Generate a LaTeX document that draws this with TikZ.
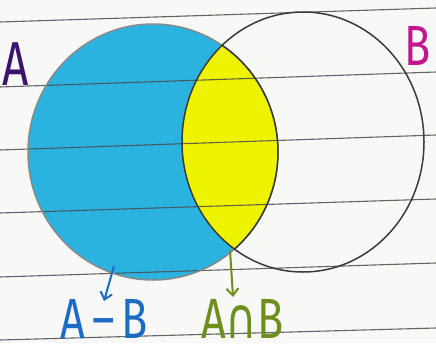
\documentclass[tikz,border=0pt]{standalone}
\usepackage{fontspec}
\setmainfont{Fira Sans}
\newfontfamily\symfont{DejaVu Sans}
\usetikzlibrary{arrows.meta}
\definecolor{paper}{HTML}{F8F8F6}
\definecolor{fillA}{HTML}{2BB3DF}
\definecolor{fillI}{HTML}{EEF400}
\definecolor{ruleline}{HTML}{4A4A52}
\definecolor{labA}{HTML}{3B1470}
\definecolor{labB}{HTML}{C2178E}
\definecolor{labDiff}{HTML}{1C6CC4}
\definecolor{labInt}{HTML}{6E8F1E}
\definecolor{outline}{HTML}{3A3A3A}
\tikzset{
  paperline/.style={ruleline, line width=1.1pt, opacity=0.85},
  setedge/.style={outline, line width=1.5pt},
  hand/.style={inner sep=0pt, text depth=0pt, font=\fontsize{54}{54}\selectfont\mdseries},
  pointer/.style={line width=2pt, -{Straight Barb[length=7pt,width=12pt,line width=2pt]}}
}
\begin{document}
\begin{tikzpicture}[x=1pt,y=-1pt]
\useasboundingbox (0,0) rectangle (436,343);
\fill[paper] (0,0) rectangle (436,343);
% circle A fill
\fill[fillA] (153,152) ellipse [x radius=125, y radius=128];
% intersection
\begin{scope}
  \clip (303,142) ellipse [x radius=121, y radius=130];
  \fill[fillI] (153,152) ellipse [x radius=125, y radius=128];
\end{scope}
% ruled lines
\draw[paperline] (0,22) -- (436,8);
\draw[paperline] (0,87) -- (436,72);
\draw[paperline] (0,150) -- (436,135);
\draw[paperline] (0,213) -- (436,199);
\draw[paperline] (0,277) -- (436,263);
\draw[paperline] (0,340) -- (436,328);
% outlines
\draw[setedge, outline!60] (153,152) ellipse [x radius=125, y radius=128];
\begin{scope}
  \clip (303,142) ellipse [x radius=121, y radius=130];
  \draw[setedge] (153,152) ellipse [x radius=125, y radius=128];
\end{scope}
\draw[setedge] (303,142) ellipse [x radius=121, y radius=130];
% labels
\node[hand, anchor=north west, labA, xscale=0.85, yscale=1.15] (lA) at (2,42) {A};
\node[hand, anchor=north west, labB, xscale=0.8, yscale=1.05] (lB) at (404,26) {B};
\node[hand, anchor=base west, labDiff, xscale=0.8, yscale=1.05] (lD) at (60,338) {A\,–\,B};
\node[hand, anchor=base west, labInt, xscale=0.8, yscale=1.05] (lI) at (201,338) {A{\symfont\fontsize{54}{54}\selectfont∩}B};
% pointers
\coordinate (pA) at (114,266);
\coordinate (pI) at (230,250);
\coordinate (tA) at (104,301);
\coordinate (tI) at (233,297);
\draw[pointer, labDiff] (pA) -- (tA);
\draw[pointer, labInt] (pI) -- (tI);
\end{tikzpicture}
\end{document}
